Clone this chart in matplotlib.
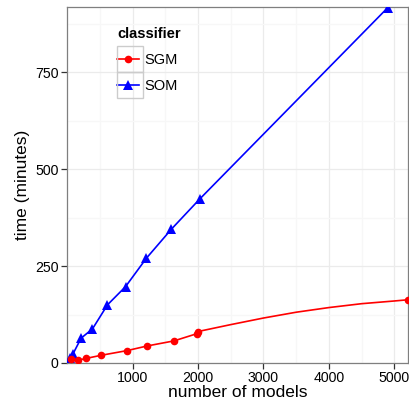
import matplotlib

matplotlib.use("Agg")
import matplotlib.pyplot as plt
from matplotlib.lines import Line2D
from matplotlib.patches import Rectangle

plt.rcParams["font.family"] = ["Liberation Sans", "DejaVu Sans"]

# ----- data -----
som_models = [50, 92, 214, 388, 617, 893, 1210, 1592, 2026, 4900]
som_minutes = [13, 24, 64, 88, 150, 197, 270, 345, 423, 917]

sgm_models = [66, 163, 296, 525, 918, 1225, 1633, 1990, 1995, 5200]
sgm_minutes = [11, 7, 12, 20, 32, 44, 57, 76, 81, 163]

# fitted SGM curve beyond the last measured cluster (no markers in the reference)
sgm_curve_models = [1995, 2500, 3000, 3500, 4000, 4500, 5000, 5200]
sgm_curve_minutes = [81, 99, 116, 131, 143, 153, 160, 163]

x_ticks = [1000, 2000, 3000, 4000, 5000]
y_ticks = [0, 250, 500, 750]

RED = "#ff0000"
BLUE = "#0000ff"

fig = plt.figure(figsize=(4.09, 4.09), dpi=100)
ax = fig.add_axes([0.164, 0.1125, 0.834, 0.870])

ax.plot(som_models, som_minutes, color=BLUE, lw=1.2, marker="^", ms=6.5,
        markeredgewidth=0, zorder=3)
ax.plot(sgm_models[:-1], sgm_minutes[:-1], color=RED, lw=1.2, zorder=3)
ax.plot(sgm_curve_models, sgm_curve_minutes, color=RED, lw=1.2, zorder=3)
ax.plot(sgm_models, sgm_minutes, color=RED, lw=0, marker="o", ms=5.5,
        markeredgewidth=0, zorder=4)

ax.set_xlim(0, 5210)
ax.set_ylim(0, 918)
ax.set_xticks(x_ticks)
ax.set_yticks(y_ticks)
ax.set_xticks([500, 1500, 2500, 3500, 4500], minor=True)
ax.set_yticks([125, 375, 625, 875], minor=True)
ax.grid(True, which="major", color="#ebebeb", lw=0.9)
ax.grid(True, which="minor", color="#f7f7f7", lw=0.9)
ax.set_axisbelow(True)
for s in ax.spines.values():
    s.set_color("#7f7f7f")
    s.set_linewidth(0.9)
ax.tick_params(which="major", length=4, width=0.9, color="#333333",
               labelsize=10.2, labelcolor="black", pad=2)
ax.tick_params(which="minor", length=0)
ax.set_xlabel("number of models", fontsize=12.5, labelpad=0)
ax.set_ylabel("time (minutes)", fontsize=12.5, labelpad=4)

# ----- legend (ggplot style keys with grey borders) -----
handles = [
    Line2D([], [], color=RED, lw=1.2, marker="o", ms=5.5, markeredgewidth=0),
    Line2D([], [], color=BLUE, lw=1.2, marker="^", ms=6.5, markeredgewidth=0),
]
leg = ax.legend(handles, ["SGM", "SOM"], title="classifier",
                loc="upper left", bbox_to_anchor=(0.117, 0.972),
                frameon=False, fontsize=10.5, handlelength=1.5,
                handletextpad=0.35, labelspacing=0.8, borderpad=0.2)
leg.get_title().set_fontweight("bold")
leg.get_title().set_fontsize(10.5)
leg._legend_box.align = "left"

W, H = 409, 409
for top in (46, 72):
    fig.patches.append(Rectangle((117 / W, 1 - (top + 26) / H), 26 / W, 26 / H,
                                 transform=fig.transFigure, fill=False,
                                 edgecolor="#cccccc", lw=1.0, zorder=5))

fig.savefig("out.png", dpi=100)
